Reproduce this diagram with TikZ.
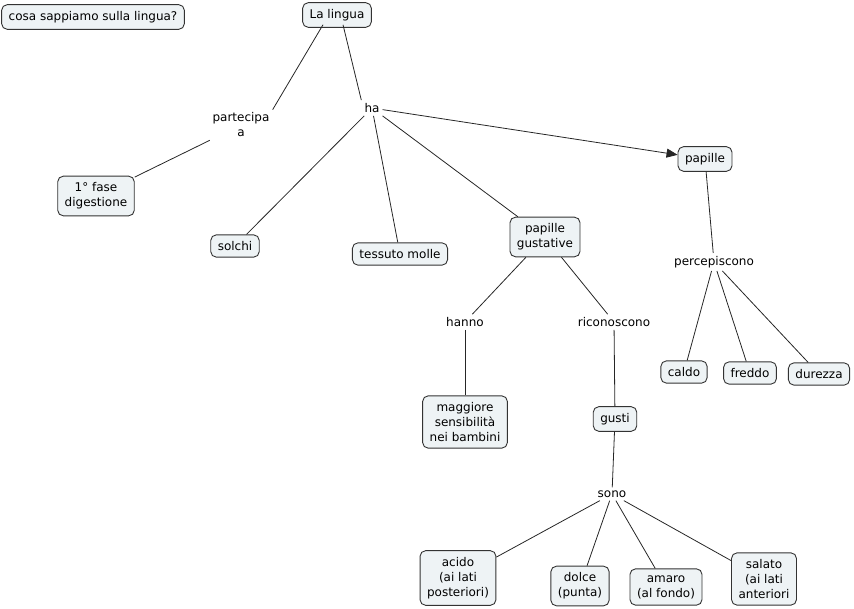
\documentclass[tikz,border=0pt]{standalone}
\usepackage{fontspec}
\setmainfont{DejaVu Sans}
\usetikzlibrary{arrows.meta}
\definecolor{boxfill}{HTML}{EEF3F5}
\definecolor{boxline}{HTML}{333333}
\tikzset{
  concept/.style={draw=boxline, fill=boxfill, rounded corners=5.5pt, line width=0.9pt,
    inner xsep=7pt, inner ysep=6.5pt, align=center,
    font=\fontsize{12}{15}\selectfont},
  linkphrase/.style={inner sep=3pt, align=center, font=\fontsize{12}{15}\selectfont},
  conn/.style={draw=black!85, line width=0.8pt},
  arr/.style={conn, -{Triangle[length=11pt,width=9pt]}}
}
\begin{document}
\begin{tikzpicture}[x=1pt,y=-1pt]
\useasboundingbox (0,0) rectangle (854,609);
\node[concept] (cosa) at (93,17) {cosa sappiamo sulla lingua?};
\node[concept] (lingua) at (337,15) {La lingua};
\node[linkphrase] (partecipa) at (241,125) {partecipa\\a};
\node[linkphrase] (ha) at (372,108) {ha};
\node[concept] (fase) at (96,196) {1° fase\\digestione};
\node[concept] (solchi) at (235,246) {solchi};
\node[concept] (tessuto) at (400,254) {tessuto molle};
\node[concept] (pgust) at (545,237) {papille\\gustative};
\node[concept] (papille) at (705,159) {papille};
\node[linkphrase] (perc) at (714,262) {percepiscono};
\node[linkphrase] (hanno) at (465,322) {hanno};
\node[linkphrase] (ricon) at (614,322) {riconoscono};
\node[concept] (caldo) at (684,372) {caldo};
\node[concept] (freddo) at (750,373) {freddo};
\node[concept] (durezza) at (819,374) {durezza};
\node[concept] (magg) at (465,422) {maggiore\\sensibilità\\nei bambini};
\node[concept] (gusti) at (615,419) {gusti};
\node[linkphrase] (sono) at (612,494) {sono};
\node[concept] (acido) at (458,578) {acido\\(ai lati\\posteriori)};
\node[concept] (dolce) at (580,586) {dolce\\(punta)};
\node[concept] (amaro) at (666,587) {amaro\\(al fondo)};
\node[concept] (salato) at (764,579) {salato\\(ai lati\\anteriori};

\draw[conn] ([xshift=-14pt,yshift=3pt]lingua.south) -- (partecipa.north east);
\draw[conn] ([xshift=6pt,yshift=3pt]lingua.south) -- (ha.north west);
\draw[conn] (partecipa) -- (fase);
\draw[conn] (ha) -- (solchi);
\draw[conn] (ha) -- (tessuto);
\draw[conn] (ha) -- (pgust);
\draw[arr] (ha) -- (papille);
\draw[conn] (papille) -- (perc);
\draw[conn] (perc) -- (caldo);
\draw[conn] (perc) -- (freddo);
\draw[conn] (perc) -- (durezza);
\draw[conn] (pgust) -- (hanno);
\draw[conn] (pgust) -- (ricon);
\draw[conn] (hanno) -- (magg);
\draw[conn] (ricon) -- (gusti);
\draw[conn] (gusti) -- (sono);
\draw[conn] (sono) -- (acido);
\draw[conn] (sono) -- (dolce);
\draw[conn] (sono) -- (amaro);
\draw[conn] (sono) -- (salato);
\end{tikzpicture}
\end{document}
